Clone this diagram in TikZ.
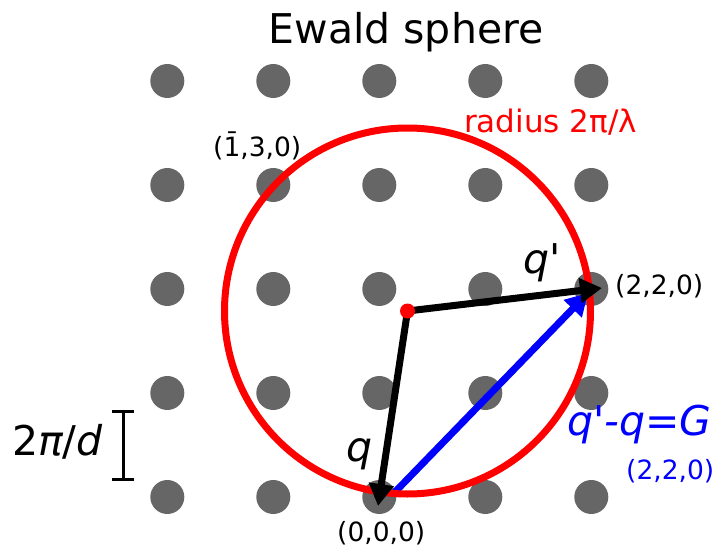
\documentclass[tikz,border=0pt]{standalone}
\usepackage{fontspec}
\setmainfont{DejaVu Sans}[Ligatures=TeXOff]
\usetikzlibrary{arrows.meta}
\definecolor{dotgray}{HTML}{666666}
\begin{document}
\begin{tikzpicture}[x=1pt,y=-1pt,
  dot/.style={circle,fill=dotgray,minimum size=34pt,inner sep=0pt},
  lbl/.style={anchor=base west,inner sep=0pt,font=\fontsize{26.5}{30}\selectfont},
  bigup/.style={anchor=base west,inner sep=0pt,font=\fontsize{41}{48}\selectfont},
  big/.style={bigup,font=\fontsize{41}{48}\selectfont\itshape},
  vec/.style={line width=7pt,-{Triangle[length=22pt,width=24pt]}}]
\path[use as bounding box,fill=white] (0,0) rectangle (716,546);
% reciprocal lattice
\foreach \i/\x in {0/167.3,1/273.3,2/379.3,3/485.3,4/591.3}
  \foreach \j/\y in {0/497,1/393,2/289,3/185,4/81}
    \node[dot] (d\i\j) at (\x,\y) {};
% coordinates of vector ends
\coordinate (gstart) at (395,492);
\coordinate (gtip) at (588,293);
\coordinate (qptip) at (602,288);
\coordinate (qtip) at (378,506);
% G vector
\draw[vec,blue] (gstart) -- (gtip);
% Ewald sphere
\node[circle,draw=red,line width=7pt,minimum size=366pt,inner sep=0pt] (ewald) at (407.5,311) {};
\coordinate (ctrpt) at (407.5,311);
\draw[vec,black] (ctrpt) -- (qptip);
\draw[vec,black] (ctrpt) -- (qtip);
\node[circle,fill=red,minimum size=15pt,inner sep=0pt] (ctr) at (ctrpt) {};
% scale bar
\draw[line width=3pt] (112,411) -- (134,411) (123,411) -- (123,479) (112,479) -- (134,479);
% texts
\node[anchor=base,inner sep=0pt,font=\fontsize{41}{48}\selectfont] (title) at (406,43) {Ewald sphere};
\node[lbl,text=red,font=\fontsize{31}{36}\selectfont] (radius) at (464,132) {radius 2π/λ};
\node[lbl] (l130) at (213,156) {(1̄,3,0)};
\node[lbl] (l220) at (615,294) {(2,2,0)};
\node[lbl] (l000) at (337,541) {(0,0,0)};
\node[lbl,text=blue] (lg) at (626,479) {(2,2,0)};
\node[big] (qp) at (523,273) {q'};
\node[big] (q) at (346,461) {q};
\node[big,text=blue] (G) at (567,435) {q'-q=G};
\node[bigup] (dlab) at (12,455) {2{\itshape π}/{\itshape d}};
\end{tikzpicture}
\end{document}
